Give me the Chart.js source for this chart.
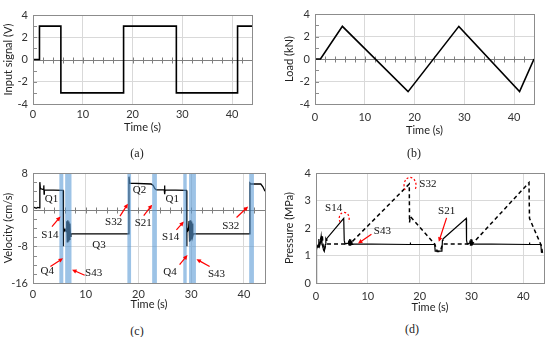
<!DOCTYPE html>
<html>
<head>
<meta charset="utf-8">
<script src="https://cdn.jsdelivr.net/npm/chart.js@4.4.0/dist/chart.umd.min.js"></script>
<style>
  body { margin: 0; background: #fff; }
  #page { position: relative; width: 550px; height: 337px; overflow: hidden; }
  .panel { position: absolute; }
  .cap { position: absolute; font-family: "Liberation Serif", serif; font-size: 12px; color: #222; transform: translate(-50%, -50%); }
</style>
</head>
<body>
<div id="page">
  <div class="panel" style="left:0;top:0;width:260px;height:134px"><canvas id="chartA"></canvas></div>
  <div class="panel" style="left:275px;top:0;width:265px;height:137px"><canvas id="chartB"></canvas></div>
  <div class="panel" style="left:0;top:160px;width:272px;height:151px"><canvas id="chartC"></canvas></div>
  <div class="panel" style="left:275px;top:160px;width:275px;height:154px"><canvas id="chartD"></canvas></div>
  <div class="cap" style="left:137px;top:153px">(a)</div>
  <div class="cap" style="left:414px;top:153px">(b)</div>
  <div class="cap" style="left:137px;top:331px">(c)</div>
  <div class="cap" style="left:412px;top:329px">(d)</div>
</div>
<script>
// (a) señal de entrada
const inputT = [0, 1.3, 1.3, 5.6, 5.6, 18.2, 18.2, 28.8, 28.8, 41.1, 41.1, 44];
const inputV = [0, 0, 3, 3, -3, -3, 3, 3, -3, -3, 3, 3];

// (b) carga
const loadT = [0, 1.1, 5.5, 18.7, 28.9, 41.1, 44];
const loadKN = [0, 0, 2.9, -2.9, 2.9, -2.9, 0];

// (c) velocidad
const velT = [0, 0.3, 0.6, 0.9, 1.25, 1.3, 1.4, 2.0, 2.05, 2.1, 2.15, 5.7, 5.75, 5.8, 5.95, 6.1, 6.3,
  6.4, 6.5, 6.6, 6.7, 6.8, 6.9, 7.0, 7.1, 7.2, 18.15, 18.2, 18.35, 22.4, 22.8, 23.1, 23.4,
  24.9, 24.95, 25.0, 25.05, 29.1, 29.15, 29.2, 29.35, 29.5, 29.6, 29.7, 29.8, 29.9, 30.0, 30.1, 30.2, 30.3,
  30.4, 41.1, 41.15, 41.3, 43.2, 43.6, 44];
const velV = [0.4, 0.5, 0.3, 0.5, 0.4, 6.0, 4.6, 4.4, 5.3, 3.4, 4.3, 4.2, -8.0, -3.8, -4.6, -4.3, -4.8,
  -2.5, -7.0, -2.3, -6.8, -2.6, -6.5, -3.0, -5.8, -5.3, -5.3, 7.2, 5.8, 5.6, 5.3, 4.6, 4.3,
  4.3, 5.3, 3.4, 4.3, 4.2, -8.0, -3.8, -4.6, -4.3, -2.5, -7.0, -2.3, -6.8, -2.6, -6.5, -3.0, -5.8,
  -5.3, -5.3, 5.8, 5.6, 5.6, 5.0, 4.0];
const bandStart = [5.0, 6.1, 17.9, 22.6, 28.5, 29.6, 41.0];
const bandEnd = [5.75, 7.3, 18.6, 23.5, 29.15, 30.9, 41.9];
const velLabels = ['Q1', 'Q2', 'Q1', 'Q3', 'S14', 'S32', 'S21', 'S14', 'S32', 'Q4', 'S43', 'Q4', 'S43'];
const velLabelT = [3.5, 20.2, 26.4, 12.5, 3.2, 15.3, 20.9, 26.1, 37.5, 2.7, 11.5, 26.0, 34.8];
const velLabelV = [2.4, 4.2, 2.2, -7.8, -5.5, -2.8, -2.9, -5.9, -3.5, -13.5, -13.9, -13.7, -14.0];
const velArrowFromT = [3.6, 3.3, 9.8, 16.5, 21.0, 27.2, 27.8, 33.5, 38.6];
const velArrowFromV = [-3.7, -12.4, -14.3, -1.4, -1.3, -4.4, -12.0, -12.4, -1.7];
const velArrowToT = [5.2, 5.7, 7.4, 18.0, 22.6, 28.6, 29.3, 31.0, 40.8];
const velArrowToV = [-1.5, -10.6, -13.1, 1.3, 1.1, -2.6, -9.9, -10.8, 0.7];

// (d) presión
const presT = [0, 0.1, 0.25, 0.4, 0.55, 0.7, 0.85, 1.0, 1.15, 1.3, 1.45, 1.6, 1.8, 1.9, 2.0, 2.1, 5.35, 5.45, 5.6,
  6.2, 6.3, 6.4, 6.5, 6.6, 6.7, 6.8, 6.9, 7.0, 7.1, 18.15, 18.2, 18.25, 22.9, 23.0, 24.3, 24.4, 24.5, 24.6,
  29.0, 29.05, 29.2, 29.6, 29.7, 29.8, 29.9, 30.0, 30.1, 30.2, 30.3, 41.15, 41.2, 41.25, 43.4, 43.5, 43.7];
const presSolid = [0, 1.2, 1.35, 1.3, 1.6, 1.35, 1.45, 1.7, 1.4, 1.35, 1.2, 1.15, 1.4, 1.6, 1.55, 1.62, 2.35, 1.55, 1.42,
  1.45, 1.55, 1.38, 1.6, 1.38, 1.58, 1.4, 1.52, 1.4, 1.42, 1.4, 1.47, 1.4, 1.4, 1.16, 1.16, 1.55, 1.6, 1.62,
  2.35, 1.55, 1.42, 1.45, 1.55, 1.38, 1.6, 1.38, 1.58, 1.4, 1.42, 1.4, 1.47, 1.4, 1.4, 1.12, 1.1];
const presDashT = [0.3, 0.6, 0.9, 1.2, 1.4, 1.6, 1.9, 6.2, 6.5, 6.7, 18.0, 18.05, 18.2, 22.9, 23.4, 24.0, 24.4,
  29.6, 30.0, 30.3, 41.1, 41.2, 43.5, 43.7];
const presDash = [1.35, 1.4, 1.6, 1.75, 1.3, 1.2, 1.42, 1.42, 1.5, 1.45, 3.6, 2.2, 2.42, 1.42, 1.15, 1.15, 1.42,
  1.42, 1.5, 1.45, 3.65, 2.35, 1.35, 1.1];
const presLabels = ['S14', 'S43', 'S32', 'S21'];
const presLabelT = [3.4, 12.8, 21.6, 25.2];
const presLabelP = [2.72, 1.9, 3.6, 2.6];
const presArrowFromT = [10.7, 25.2];
const presArrowFromP = [1.77, 2.37];
const presArrowToT = [8.1, 23.7];
const presArrowToP = [1.44, 1.5];
const presArcT = [5.44, 18.15];
const presArcP = [2.35, 3.55];

const sans = 'Lato, "Open Sans", sans-serif';
const serif = '"Liberation Serif", "DejaVu Serif", serif';

function puntos(xs, ys) {
  return xs.map((x, i) => ({ x: x, y: ys[i] }));
}

function flecha(ctx, x1, y1, x2, y2) {
  const ang = Math.atan2(y2 - y1, x2 - x1);
  const h = 5;
  ctx.beginPath();
  ctx.moveTo(x1, y1);
  ctx.lineTo(x2 - Math.cos(ang) * h * 0.8, y2 - Math.sin(ang) * h * 0.8);
  ctx.stroke();
  ctx.beginPath();
  ctx.moveTo(x2, y2);
  ctx.lineTo(x2 - h * Math.cos(ang - 0.45), y2 - h * Math.sin(ang - 0.45));
  ctx.lineTo(x2 - h * Math.cos(ang + 0.45), y2 - h * Math.sin(ang + 0.45));
  ctx.closePath();
  ctx.fill();
}

// marco, eje cero con marcas menores y anotaciones
function pluginMarco(cfg) {
  return {
    id: 'marco',
    beforeDatasetsDraw(chart) {
      const { ctx, chartArea: a, scales: { x, y } } = chart;
      ctx.save();
      ctx.strokeStyle = '#8c8c8c';
      ctx.lineWidth = 1;
      if (cfg.yMinor) {
        for (let v = y.min; v <= y.max; v += cfg.yMinor) {
          const py = Math.round(y.getPixelForValue(v)) + 0.5;
          ctx.beginPath(); ctx.moveTo(a.left, py); ctx.lineTo(a.left + 4, py); ctx.stroke();
        }
      }
      if (cfg.zero) {
        const py = Math.round(y.getPixelForValue(0)) + 0.5;
        ctx.strokeStyle = '#7f7f7f';
        ctx.beginPath(); ctx.moveTo(a.left, py); ctx.lineTo(a.right, py); ctx.stroke();
        for (let t = 0; t <= x.max; t += 2) {
          const px = Math.round(x.getPixelForValue(t)) + 0.5;
          ctx.beginPath(); ctx.moveTo(px, py - 3); ctx.lineTo(px, py + 3); ctx.stroke();
        }
      }
      ctx.restore();
    },
    afterDatasetsDraw(chart) {
      const { ctx, chartArea: a, scales: { x, y } } = chart;
      ctx.save();
      if (cfg.bands) {
        ctx.fillStyle = 'rgba(91,155,213,0.6)';
        cfg.bands[0].forEach((s, i) => {
          const x1 = x.getPixelForValue(s), x2 = x.getPixelForValue(cfg.bands[1][i]);
          ctx.fillRect(x1, a.top, x2 - x1, a.bottom - a.top);
        });
      }
      ctx.strokeStyle = '#8c8c8c';
      ctx.lineWidth = 1;
      ctx.strokeRect(Math.round(a.left) + 0.5, Math.round(a.top) + 0.5, Math.round(a.right - a.left), Math.round(a.bottom - a.top));
      if (cfg.labels) {
        ctx.fillStyle = '#111';
        ctx.font = '11px ' + serif;
        ctx.textAlign = 'center';
        ctx.textBaseline = 'middle';
        cfg.labels[0].forEach((txt, i) => {
          ctx.fillText(txt, x.getPixelForValue(cfg.labels[1][i]), y.getPixelForValue(cfg.labels[2][i]));
        });
      }
      if (cfg.arrows) {
        ctx.strokeStyle = '#ff0000';
        ctx.fillStyle = '#ff0000';
        ctx.lineWidth = 1.2;
        cfg.arrows[0].forEach((t1, i) => {
          flecha(ctx, x.getPixelForValue(t1), y.getPixelForValue(cfg.arrows[1][i]),
            x.getPixelForValue(cfg.arrows[2][i]), y.getPixelForValue(cfg.arrows[3][i]));
        });
      }
      if (cfg.arcs) {
        ctx.strokeStyle = '#ff0000';
        ctx.lineWidth = 1.2;
        ctx.setLineDash([2, 2]);
        cfg.arcs[0].forEach((t, i) => {
          const rx = i === 0 ? 5 : 6, ry = i === 0 ? 6 : 8;
          ctx.beginPath();
          ctx.ellipse(x.getPixelForValue(t), y.getPixelForValue(cfg.arcs[1][i]), rx, ry, 0, 0.8 * Math.PI, 2.2 * Math.PI);
          ctx.stroke();
        });
      }
      ctx.restore();
    }
  };
}

function crearGrafica(id, datasets, ejes, cfg) {
  const gridColor = ctx => {
    const v = ctx.tick ? ctx.tick.value : null;
    if (v === 0) return 'rgba(0,0,0,0)';
    return '#d9d9d9';
  };
  return new Chart(document.getElementById(id), {
    type: 'line',
    data: { datasets: datasets },
    options: {
      responsive: true,
      maintainAspectRatio: false,
      animation: false,
      parsing: true,
      layout: { padding: { top: ejes.padTop, right: ejes.padRight, left: 0, bottom: 0 } },
      plugins: { legend: { display: false }, tooltip: { enabled: false } },
      elements: { point: { radius: 0 }, line: { tension: 0, borderJoinStyle: 'miter' } },
      scales: {
        x: {
          type: 'linear', min: 0, max: 44,
          ticks: { stepSize: 10, includeBounds: false, padding: ejes.xPad, color: '#333', font: { family: sans, size: ejes.font } },
          grid: { color: gridColor, drawTicks: false },
          border: { display: false },
          title: { display: true, text: 'Time (s)', color: '#222', font: { family: sans, size: ejes.font }, padding: 0 },
          afterFit: s => { s.height = ejes.xH; }
        },
        y: {
          type: 'linear', min: ejes.yMin, max: ejes.yMax,
          ticks: { stepSize: ejes.yStep, includeBounds: false, padding: 5, color: '#333', font: { family: sans, size: ejes.font } },
          grid: { color: gridColor, drawTicks: false },
          border: { display: false },
          title: { display: true, text: ejes.yTitle, color: '#222', font: { family: sans, size: ejes.font }, padding: { top: ejes.yTitlePad, bottom: 0 } },
          afterFit: s => { s.width = ejes.yW; }
        }
      }
    },
    plugins: [pluginMarco(cfg)]
  });
}

const linea = (pts, extra) => Object.assign({ data: pts, borderColor: '#000', borderWidth: 1.6, fill: false, pointRadius: 0 }, extra || {});

crearGrafica('chartA', [linea(puntos(inputT, inputV))],
  { padTop: 15, padRight: 8, xH: 30, yW: 33, xPad: 4, font: 11, yMin: -4, yMax: 4, yStep: 2, yTitle: 'Input signal (V)', yTitlePad: 2 },
  { zero: true, yMinor: 1 });

crearGrafica('chartB', [linea(puntos(loadT, loadKN))],
  { padTop: 14, padRight: 6, xH: 33, yW: 40, xPad: 7, font: 11, yMin: -4, yMax: 4, yStep: 2, yTitle: 'Load (kN)', yTitlePad: 8 },
  { zero: true, yMinor: 1 });

crearGrafica('chartC', [linea(puntos(velT, velV), { borderWidth: 1.3 })],
  { padTop: 13, padRight: 7, xH: 28, yW: 33, xPad: 5, font: 11, yMin: -16, yMax: 8, yStep: 8, yTitle: 'Velocity (cm/s)', yTitlePad: 2 },
  { zero: true, yMinor: 2, bands: [bandStart, bandEnd],
    labels: [velLabels, velLabelT, velLabelV],
    arrows: [velArrowFromT, velArrowFromV, velArrowToT, velArrowToV] });

crearGrafica('chartD', [
    linea(puntos(presT, presSolid), { borderWidth: 1.2 }),
    linea(puntos(presDashT, presDash), { borderWidth: 1.5, borderDash: [4, 3] })
  ],
  { padTop: 13, padRight: 6, xH: 31, yW: 41, xPad: 7, font: 11, yMin: 0, yMax: 4, yStep: 1, yTitle: 'Pressure (MPa)', yTitlePad: 8 },
  { labels: [presLabels, presLabelT, presLabelP],
    arrows: [presArrowFromT, presArrowFromP, presArrowToT, presArrowToP],
    arcs: [presArcT, presArcP] });
</script>
</body>
</html>
